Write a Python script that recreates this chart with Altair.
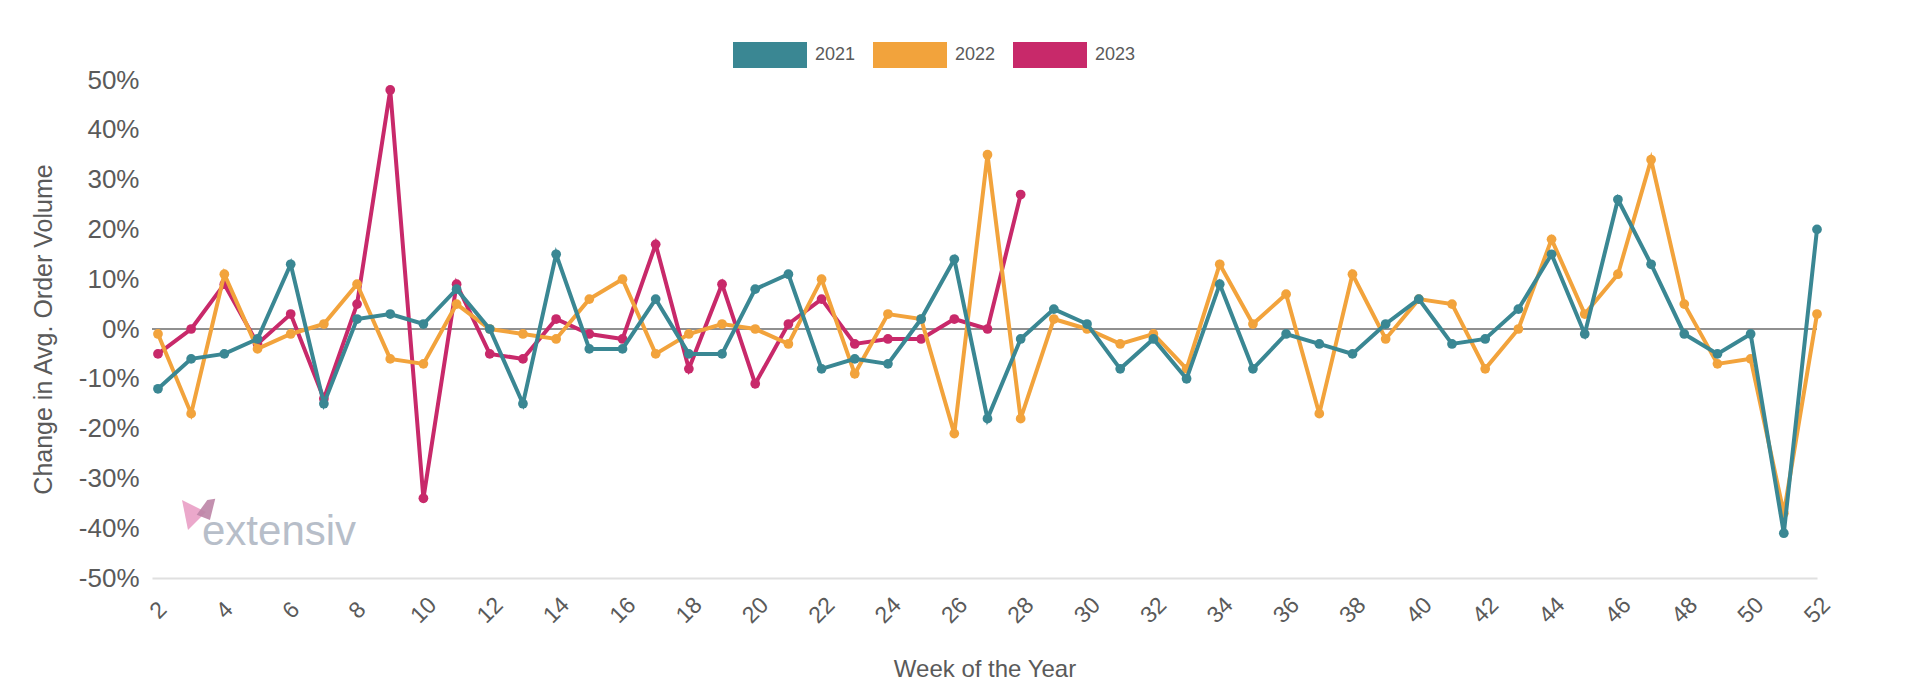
import altair as alt
import pandas as pd

weeks = list(range(2, 53))

y2021 = [-12, -6, -5, -2, 13, -15, 2, 3, 1, 8, 0, -15, 15, -4, -4, 6, -5, -5, 8, 11,
         -8, -6, -7, 2, 14, -18, -2, 4, 1, -8, -2, -10, 9, -8, -1, -3, -5, 1, 6, -3,
         -2, 4, 15, -1, 26, 13, -1, -5, -1, -41, 20]
y2022 = [-1, -17, 11, -4, -1, 1, 9, -6, -7, 5, 0, -1, -2, 6, 10, -5, -1, 1, 0, -3,
         10, -9, 3, 2, -21, 35, -18, 2, 0, -3, -1, -8, 13, 1, 7, -17, 11, -2, 6, 5,
         -8, 0, 18, 3, 11, 34, 5, -7, -6, -37, 3]
weeks2023 = list(range(2, 29))
y2023 = [-5, 0, 9, -3, 3, -14, 5, 48, -34, 9, -5, -6, 2, -1, -2, 17, -8, 9, -11, 1,
         6, -3, -2, -2, 2, 0, 27]

years = ["2021", "2022", "2023"]
colors = ["#3A8793", "#F2A33C", "#C8296A"]
y_ticks = [-50, -40, -30, -20, -10, 0, 10, 20, 30, 40, 50]
x_ticks = list(range(2, 53, 2))

rows = []
for w, v in zip(weeks, y2021):
    rows.append({"week": w, "value": v, "year": "2021"})
for w, v in zip(weeks, y2022):
    rows.append({"week": w, "value": v, "year": "2022"})
for w, v in zip(weeks2023, y2023):
    rows.append({"week": w, "value": v, "year": "2023"})
df = pd.DataFrame(rows)

FONT = "Liberation Sans"

xenc = alt.X("week:Q", scale=alt.Scale(domain=[1.82, 52], nice=False, zero=False),
             axis=alt.Axis(values=x_ticks, title="Week of the Year", labelAngle=-45,
                           labelAlign="center", labelBaseline="middle", labelPadding=32,
                           ticks=False, grid=False, domainColor="#E0E0E0", domainWidth=2,
                           labelFontSize=23, labelColor="#5A5A5A", titleFontSize=24,
                           titleColor="#5A5A5A", titleFontWeight="normal", titlePadding=30,
                           labelFont=FONT, titleFont=FONT))
yenc = alt.Y("value:Q", scale=alt.Scale(domain=[-50, 50], nice=False),
             axis=alt.Axis(values=y_ticks, labelExpr="datum.value + '%'",
                           title="Change in Avg. Order Volume", ticks=False, grid=False,
                           domain=False, labelFontSize=26, labelColor="#5A5A5A",
                           labelPadding=13, titleFontSize=25, titleColor="#5A5A5A",
                           titleFontWeight="normal", titlePadding=22,
                           labelFont=FONT, titleFont=FONT))
cenc = alt.Color("year:N", scale=alt.Scale(domain=years, range=colors),
                 legend=alt.Legend(title=None, orient="none", direction="horizontal",
                                   legendX=581, legendY=-62,
                                   symbolType="M-1,-0.35L1,-0.35L1,0.35L-1,0.35Z",
                                   symbolSize=5476, symbolStrokeWidth=0, symbolOpacity=1,
                                   labelFontSize=18, labelColor="#5A5A5A", labelFont=FONT,
                                   labelOffset=8, columnPadding=17))

base = alt.Chart(df)

zero = alt.Chart(pd.DataFrame({"z": [0]})).mark_rule(color="#6B6B6B", strokeWidth=1.5).encode(
    y=alt.Y("z:Q", scale=alt.Scale(domain=[-50, 50], nice=False)))

layers = [zero]
for yr in ["2023", "2022", "2021"]:
    sub = base.transform_filter(alt.datum.year == yr)
    layers.append(sub.mark_line(strokeWidth=4).encode(x=xenc, y=yenc, color=cenc))
    layers.append(sub.mark_point(filled=True, size=95, opacity=1).encode(x=xenc, y=yenc, color=cenc))

logo_text = alt.Chart(pd.DataFrame({"t": ["extensiv"]})).mark_text(
    font=FONT, fontSize=42, color="#B7BEC9", align="left", baseline="alphabetic").encode(
    x=alt.value(50), y=alt.value(465), text="t:N")
logo_a = alt.Chart(pd.DataFrame({"t": ["a"]})).mark_point(
    shape="M-1,-1L0.6,-0.2L-0.6,1Z", size=900, filled=True, color="#EBA8CB", opacity=1).encode(
    x=alt.value(45), y=alt.value(435))
logo_b = alt.Chart(pd.DataFrame({"t": ["b"]})).mark_point(
    shape="M-0.4,0.2L0.4,-0.9L1,-1L0.6,0.6Z", size=700, filled=True, color="#BC84A6", opacity=0.9).encode(
    x=alt.value(50), y=alt.value(432))

chart = alt.layer(*layers, logo_a, logo_b, logo_text).properties(
    width=1665, height=498, autosize="none",
    padding={"left": 144, "top": 72, "right": 95, "bottom": 104}
).configure(font=FONT).configure_view(stroke=None, strokeWidth=0)

chart.save("out.html", embed_options={"renderer": "svg", "actions": False})
